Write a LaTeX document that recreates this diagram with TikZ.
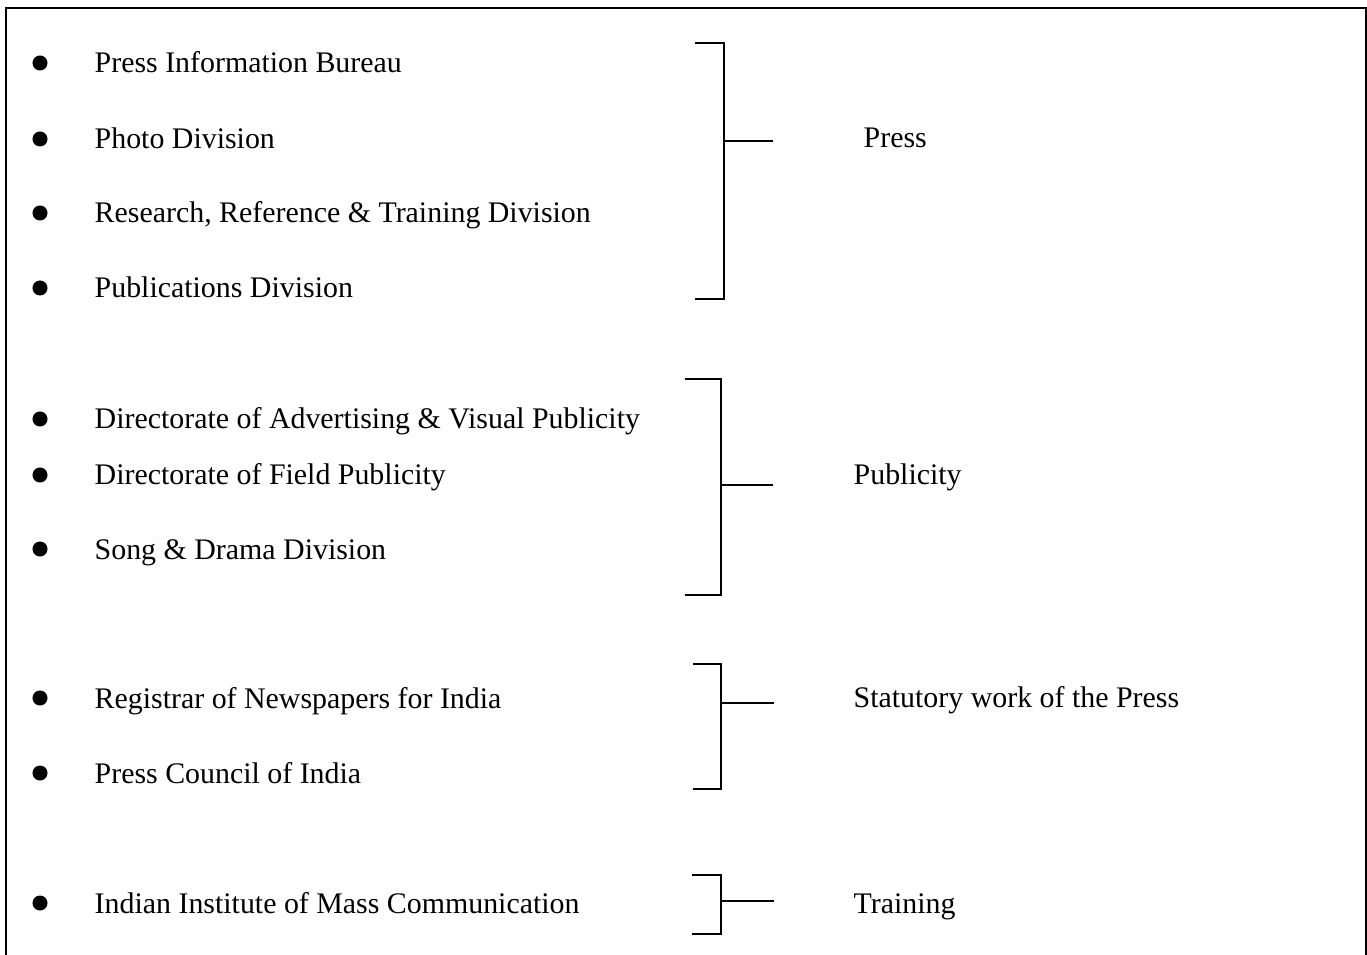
\documentclass[tikz,border=0pt]{standalone}
\usepackage{fontspec}
\setmainfont{Liberation Serif}
\usetikzlibrary{positioning}

\begin{document}
\begin{tikzpicture}[x = 0.01cm, y = -0.01cm, font = \fontsize{8.5}{10}\selectfont,
		item/.style = {anchor = base west, inner sep = 0pt},
		dot/.style = {circle, fill, inner sep = 0pt, minimum size = 0.15cm},
		bracket/.style = {line width = 0.75pt},
		tick/.style = {line width = 0.4pt}]
			\def\xDOT{40};
			\def\xTXT{94};
			\def\xBR{721};
			\def\xTICK{774};
			\def\xLAB{853};

			\useasboundingbox (0,0) rectangle (1367,955);

			\begin{scope}
				\draw [line width = 0.6pt] (6,955) -- (6,8) -- (1366,8) -- (1366,955);
			\end{scope}

			\begin{scope}
				\node [item] (pib) at (\xTXT,73) {Press Information Bureau};
				\node [item] (photo) at (\xTXT,149) {Photo Division};
				\node [item] (rrtd) at (\xTXT,223) {Research, Reference \& Training Division};
				\node [item] (pubdiv) at (\xTXT,298) {Publications Division};

				\node [item] (davp) at (\xTXT,429) {Directorate of Advertising \& Visual Publicity};
				\node [item] (dfp) at (\xTXT,485) {Directorate of Field Publicity};
				\node [item] (song) at (\xTXT,559) {Song \& Drama Division};

				\node [item] (rni) at (\xTXT,708) {Registrar of Newspapers for India};
				\node [item] (pci) at (\xTXT,783) {Press Council of India};

				\node [item] (iimc) at (\xTXT,913) {Indian Institute of Mass Communication};
			\end{scope}

			\begin{scope}
				\node [dot] (d1) at (\xDOT,63) {};
				\node [dot] (d2) at (\xDOT,139) {};
				\node [dot] (d3) at (\xDOT,213) {};
				\node [dot] (d4) at (\xDOT,288) {};
				\node [dot] (d5) at (\xDOT,419) {};
				\node [dot] (d6) at (\xDOT,475) {};
				\node [dot] (d7) at (\xDOT,549) {};
				\node [dot] (d8) at (\xDOT,698) {};
				\node [dot] (d9) at (\xDOT,773) {};
				\node [dot] (d10) at (\xDOT,903) {};
			\end{scope}

			\begin{scope}
				\node [item] (press) at (863,148) {Press};
				\node [item] (publicity) at (\xLAB,484) {Publicity};
				\node [item] (statutory) at (\xLAB,707) {Statutory work of the Press};
				\node [item] (training) at (\xLAB,913) {Training};
			\end{scope}

			\begin{scope}[bracket]
				\draw (695,43) -- (724,43) -- (724,299) -- (695,299);
				\draw (685,379) -- (\xBR,379) -- (\xBR,595) -- (685,595);
				\draw (693,664) -- (\xBR,664) -- (\xBR,789) -- (693,789);
				\draw (692,875) -- (\xBR,875) -- (\xBR,934) -- (692,934);
			\end{scope}

			\begin{scope}
				\coordinate (b1) at (724,141);
				\coordinate (b2) at (\xBR,485);
				\coordinate (b3) at (\xBR,703);
				\coordinate (b4) at (\xBR,901);
				\coordinate (t1) at (773,141);
				\coordinate (t2) at (773,485);
				\coordinate (t3) at (\xTICK,703);
				\coordinate (t4) at (\xTICK,901);
			\end{scope}

			\begin{scope}[tick]
				\draw (b1) -- (t1);
				\draw (b2) -- (t2);
				\draw (b3) -- (t3);
				\draw (b4) -- (t4);
			\end{scope}
		\end{tikzpicture}
\end{document}
